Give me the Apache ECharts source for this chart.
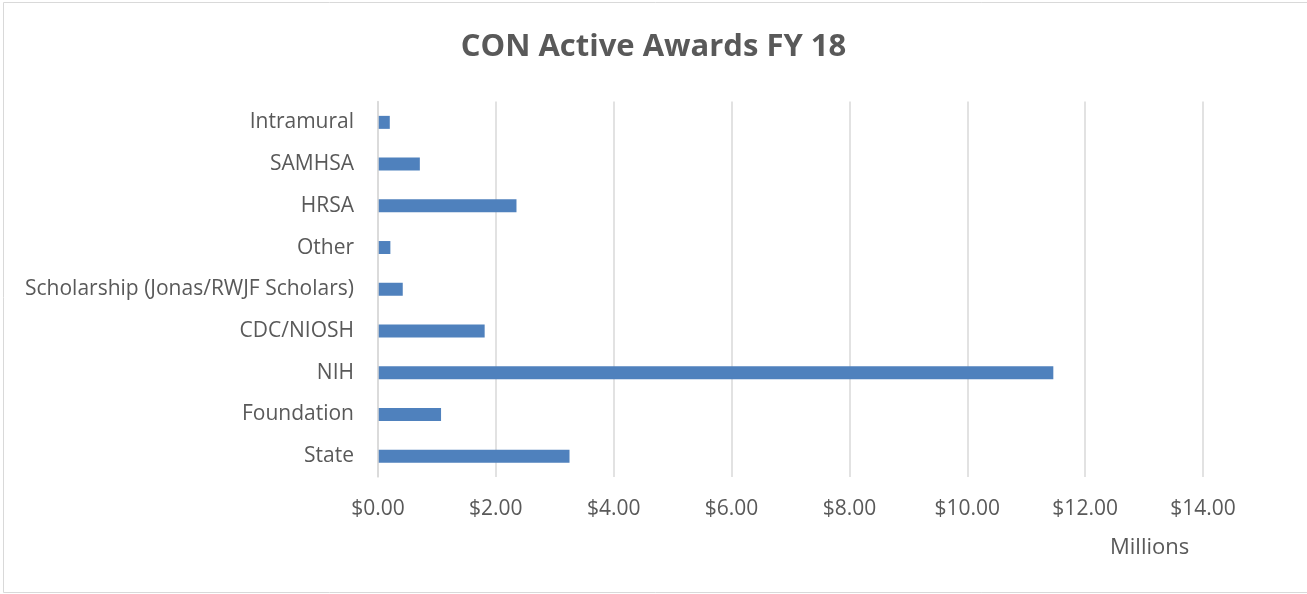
<!DOCTYPE html>
<html>
<head>
<meta charset="utf-8">
<script src="https://cdn.jsdelivr.net/npm/echarts@6/dist/echarts.min.js"></script>
<style>
html,body{margin:0;padding:0;background:#fff;}
#chart{width:1307px;height:594px;}
</style>
</head>
<body>
<div id="chart"></div>
<script>
const categories = ["State", "Foundation", "NIH", "CDC/NIOSH", "Scholarship (Jonas/RWJF Scholars)", "Other", "HRSA", "SAMHSA", "Intramural"];
const awards = [3.25, 1.07, 11.46, 1.81, 0.42, 0.21, 2.35, 0.71, 0.20];
const xTicks = [0, 2, 4, 6, 8, 10, 12, 14];
const titleText = "CON Active Awards FY 18";
const unitText = "Millions";

const chart = echarts.init(document.getElementById('chart'));
const txt = '#595959';
const font = '"Open Sans", "Liberation Sans", sans-serif';
chart.setOption({
  animation: false,
  title: {
    text: titleText, left: 'center', top: 27,
    textStyle: { fontFamily: font, fontSize: 31, fontWeight: 'bold', color: txt }
  },
  grid: { left: 378, right: 104, top: 101.5, bottom: 117 },
  xAxis: {
    type: 'value', min: xTicks[0], max: xTicks[xTicks.length - 1], interval: 2,
    axisLine: { show: false }, axisTick: { show: false },
    splitLine: { lineStyle: { color: '#d9d9d9', width: 1.5 } },
    axisLabel: { color: txt, fontFamily: font, fontSize: 21, margin: 22,
      formatter: v => '$' + v.toFixed(2) }
  },
  yAxis: {
    type: 'category', data: categories, z: 5,
    axisLine: { lineStyle: { color: '#d9d9d9', width: 1.5 } },
    axisTick: { length: 8, lineStyle: { color: '#d9d9d9', width: 1.5 } },
    axisLabel: { color: txt, fontFamily: font, fontSize: 21, margin: 24 }
  },
  series: [{
    type: 'bar', data: awards, barWidth: 13,
    itemStyle: { color: '#4f81bd' }
  }],
  graphic: [
    { type: 'rect', shape: { x: 3.5, y: 2.5, width: 1310, height: 590 }, style: { fill: 'none', stroke: '#d9d9d9', lineWidth: 1 }, silent: true },
    { type: 'text', left: 1110, top: 537, style: { text: unitText, fill: txt, font: '22px ' + font } }
  ]
});
</script>
</body>
</html>
